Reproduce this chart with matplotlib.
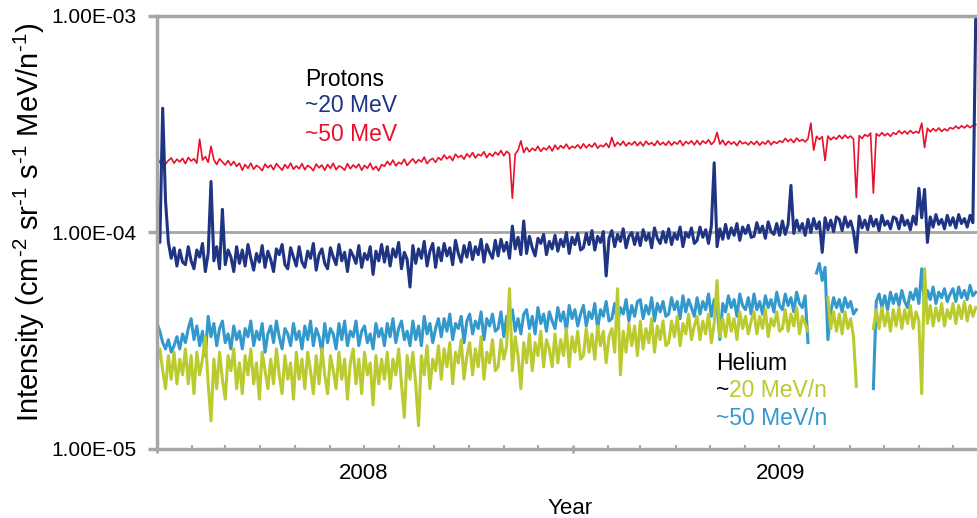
""" Proton and helium intensities, 2008-2009 """

import numpy as np
import matplotlib
matplotlib.use("Agg")
from matplotlib import pyplot as plt
import matplotlib.dates as mdates
from matplotlib.ticker import FixedLocator, FuncFormatter, NullFormatter, NullLocator

plt.rcParams['font.family'] = ['Liberation Sans', 'DejaVu Sans']
plt.rcParams['mathtext.fontset'] = 'custom'
plt.rcParams['mathtext.rm'] = 'Liberation Sans'
plt.rcParams['mathtext.it'] = 'Liberation Sans:italic'
plt.rcParams['mathtext.default'] = 'regular'

# samples every 2.5 days from 1 Jan 2008, intensities in units of 1e-5
start = np.datetime64('2008-01-01T00', 'h')
step = np.timedelta64(60, 'h')
unit = 1e-5
nan = np.nan

# protons ~50 MeV
p50 = [22.4, 21.0, 21.9, 20.7, 21.5, 22.1, 20.9, 21.8, 21.2, 22.0,
       20.8, 22.2, 21.4, 21.9, 20.9, 27.0, 21.6, 22.4, 21.1, 25.0,
       21.7, 20.6, 21.9, 21.2, 20.5, 21.5, 20.4, 21.3, 20.2, 20.9,
       19.4, 20.6, 19.8, 20.9, 19.6, 20.4, 20.0, 19.3, 20.7, 19.9,
       20.5, 19.5, 20.8, 20.1, 19.4, 20.6, 19.8, 20.9, 19.6, 20.3,
       19.7, 20.8, 19.5, 20.4, 20.0, 19.3, 20.7, 19.9, 20.5, 19.4,
       20.6, 19.8, 20.9, 19.5, 20.3, 20.0, 19.4, 20.8, 19.7, 20.5,
       19.9, 20.7, 19.4, 20.4, 19.8, 20.9, 19.5, 20.2, 19.3, 20.6,
       20.2, 21.3, 20.5, 21.6, 20.3, 21.1, 20.7, 21.8, 20.4, 21.2,
       21.9, 20.9, 21.7, 21.2, 22.3, 20.8, 21.6, 22.0, 21.1, 22.2,
       21.6, 22.8, 21.9, 22.5, 21.5, 23.0, 22.2, 22.7, 21.8, 23.1,
       22.3, 23.4, 22.1, 23.0, 22.6, 23.6, 22.2, 23.2, 22.5, 23.5,
       22.8, 23.9, 22.6, 23.7, 23.1, 14.4, 23.0, 24.0, 26.5, 23.4,
       24.7, 23.6, 24.5, 23.9, 25.0, 23.7, 24.6, 24.1, 25.1, 23.8,
       25.3, 24.2, 25.2, 24.5, 25.6, 24.3, 25.0, 24.6, 25.4, 24.4,
       25.7, 24.6, 25.5, 24.8, 25.9, 24.5, 25.3, 24.9, 25.8, 24.7,
       27.5, 25.0, 26.1, 25.3, 26.4, 25.1, 26.0, 25.4, 26.3, 25.2,
       26.2, 25.1, 26.4, 25.5, 26.0, 25.2, 26.5, 25.4, 26.1, 25.3,
       26.4, 25.3, 26.2, 25.6, 26.6, 25.2, 26.3, 25.7, 26.5, 25.4,
       26.6, 25.4, 26.5, 25.8, 26.8, 25.5, 26.3, 29.0, 25.6, 26.7,
       25.3, 26.4, 25.6, 26.2, 25.2, 26.5, 25.7, 26.1, 25.4, 26.3,
       25.5, 26.4, 25.3, 26.2, 25.6, 26.6, 25.4, 26.3, 25.8, 26.5,
       26.1, 27.2, 26.3, 27.0, 26.0, 27.3, 26.4, 26.9, 26.2, 27.1,
       32.0, 24.0, 27.8, 26.9, 27.7, 21.5, 27.9, 26.8, 27.6, 27.0,
       28.1, 27.1, 28.2, 27.3, 27.9, 27.0, 14.5, 28.0, 27.2, 28.3,
       27.8, 28.8, 15.2, 28.6, 27.9, 28.9, 28.0, 28.7, 27.8, 28.9,
       28.4, 29.5, 28.6, 29.4, 28.5, 29.6, 28.7, 29.3, 28.8, 32.0,
       24.7, 30.3, 29.2, 30.2, 29.4, 30.4, 29.3, 30.1, 29.5, 30.5,
       30.1, 31.0, 30.2, 31.1, 30.4, 31.3, 30.5, 31.2, 31.5]

# protons ~20 MeV
p20 = [11.5, 9.0, 37.5, 14.0, 9.0, 7.6, 8.5, 7.0, 8.3, 7.3,
       7.1, 8.6, 7.4, 6.8, 8.3, 7.7, 8.9, 6.6, 8.0, 17.2,
       7.4, 8.6, 6.8, 12.8, 7.1, 8.3, 7.7, 6.6, 8.6, 7.2,
       8.3, 7.0, 8.8, 7.6, 6.7, 8.0, 7.3, 8.7, 6.9, 8.2,
       7.5, 6.6, 8.4, 7.9, 8.8, 7.1, 6.8, 8.5, 7.7, 7.0,
       8.6, 7.3, 6.9, 8.2, 7.6, 8.9, 6.7, 7.9, 8.4, 7.2,
       6.8, 8.5, 7.7, 7.1, 8.8, 7.4, 8.1, 6.6, 8.3, 7.8,
       7.2, 8.7, 6.9, 8.0, 7.5, 8.6, 6.4, 8.2, 7.4, 8.8,
       7.3, 8.6, 7.0, 8.4, 7.7, 9.0, 6.8, 8.1, 7.5, 5.6,
       8.7, 7.2, 8.4, 7.6, 9.1, 7.0, 8.2, 8.9, 6.9, 8.5,
       7.4, 8.9, 7.8, 8.5, 7.1, 9.2, 8.0, 7.3, 8.7, 7.7,
       9.0, 7.5, 8.6, 7.9, 9.3, 7.3, 8.8, 8.1, 7.6, 9.2,
       7.8, 9.3, 8.2, 9.0, 7.6, 10.7, 8.4, 9.5, 7.9, 11.3,
       8.0, 9.6, 8.5, 7.8, 9.4, 8.9, 9.8, 7.9, 9.1, 8.4,
       9.7, 8.2, 9.3, 8.6, 10.0, 8.0, 9.5, 8.8, 9.9, 8.3,
       8.5, 9.9, 8.8, 10.2, 8.3, 9.6, 9.0, 10.1, 6.3, 9.4,
       10.2, 8.6, 9.8, 9.1, 10.4, 8.5, 9.6, 10.0, 8.8, 9.9,
       8.7, 10.3, 9.2, 9.9, 8.5, 10.5, 9.4, 8.9, 10.1, 9.0,
       10.4, 8.8, 9.9, 9.3, 10.6, 8.6, 10.0, 9.5, 10.5, 8.9,
       9.2, 10.6, 9.5, 10.3, 8.9, 10.7, 21.0, 8.6, 10.4, 9.3,
       10.9, 9.4, 10.5, 9.7, 11.0, 9.2, 10.6, 9.9, 10.8, 9.5,
       9.6, 11.1, 10.0, 10.7, 9.4, 11.2, 10.1, 9.8, 11.0, 9.7,
       11.3, 9.8, 10.9, 16.5, 9.9, 11.4, 10.2, 11.0, 9.7, 11.5,
       10.0, 11.6, 10.4, 11.2, 8.1, 11.7, 10.3, 11.4, 10.1, 11.8,
       11.5, 10.2, 11.8, 10.6, 11.3, 10.1, 8.1, 11.9, 10.5, 11.4,
       10.3, 11.9, 10.7, 11.5, 10.2, 12.0, 10.8, 11.3, 10.4, 11.8,
       11.6, 10.4, 12.0, 10.8, 11.4, 10.3, 11.9, 10.9, 16.0, 11.7,
       15.8, 9.0, 11.8, 10.6, 12.1, 10.9, 11.5, 10.4, 12.0, 10.8,
       11.7, 10.5, 12.1, 11.0, 11.6, 10.6, 12.0, 11.1, 98.0]

# helium ~50 MeV/n
he50 = [3.8, 3.5, 3.1, 2.9, 3.2, 2.8, 3.0, 3.3, 2.9, 3.4,
        3.1, 3.6, 4.0, 3.2, 3.7, 3.0, 3.5, 2.7, 4.1, 3.3,
        3.8, 3.0, 3.6, 3.9, 3.1, 3.4, 2.9, 3.7, 3.2, 3.5,
        2.9, 3.6, 3.3, 3.9, 3.0, 3.5, 3.2, 3.8, 2.8, 3.4,
        3.7, 3.1, 3.9, 3.3, 2.9, 3.6, 3.4, 3.0, 3.8, 3.2,
        3.5, 2.9, 3.7, 3.2, 3.9, 3.0, 3.6, 3.3, 2.8, 3.8,
        3.1, 3.6, 3.4, 2.9, 3.8, 3.2, 3.9, 3.0, 3.5, 3.3,
        3.9, 3.0, 3.5, 3.7, 3.1, 3.4, 2.9, 3.8, 3.3, 3.6,
        3.0, 3.8, 3.3, 4.0, 3.1, 3.6, 3.9, 3.2, 3.5, 3.0,
        3.9, 3.2, 3.7, 3.0, 4.1, 3.4, 3.8, 3.1, 3.6, 4.0,
        3.3, 4.0, 3.5, 4.2, 3.2, 3.8, 3.6, 4.1, 3.1, 3.9,
        4.2, 3.4, 3.9, 3.6, 4.3, 3.2, 4.0, 3.7, 4.2, 3.5,
        3.6, 4.3, 3.3, 4.1, 3.8, 4.4, 3.5, 4.0, 3.4, 4.2,
        4.4, 3.6, 4.1, 3.4, 4.5, 3.8, 4.2, 3.5, 4.3, 3.9,
        3.6, 4.5, 3.9, 4.3, 3.5, 4.6, 4.0, 4.4, 3.7, 4.2,
        4.6, 3.7, 4.3, 4.0, 4.7, 3.6, 4.4, 4.1, 4.8, 3.9,
        4.0, 4.7, 3.8, 4.5, 4.2, 4.9, 3.9, 4.6, 4.1, 4.8,
        4.9, 4.0, 4.6, 4.2, 5.0, 3.9, 4.7, 4.3, 4.8, 4.1,
        4.2, 5.0, 4.4, 4.8, 4.0, 5.1, 4.3, 4.9, 4.5, 4.1,
        5.0, 4.2, 4.8, 4.4, 5.2, 4.1, 4.9, 4.6, 3.2, 4.7,
        4.3, 5.1, 4.5, 4.9, 4.1, 5.2, 4.6, 4.4, 5.0, 4.2,
        5.2, 4.4, 4.8, 4.2, 5.1, 4.5, 4.9, 4.3, 5.3, 4.6,
        4.4, 5.2, 4.6, 5.0, 4.3, 5.3, 4.7, 4.5, 5.1, 3.1,
        nan, nan, 6.5, 7.2, 6.0, 6.9, 3.2, 4.3, 5.0, 4.5,
        4.9, 4.3, 5.0, 4.5, 4.8, 4.2, 4.4, nan, nan, nan,
        nan, nan, 1.9, 4.8, 5.2, 4.5, 5.1, 4.4, 5.3, 4.7,
        5.2, 4.6, 5.4, 4.8, 4.5, 5.3, 4.9, 5.5, 4.7, 6.8,
        4.6, 5.4, 4.9, 5.6, 4.7, 5.3, 5.0, 5.5, 4.8, 5.2,
        5.5, 4.8, 5.6, 5.0, 5.4, 4.9, 5.7, 5.1, 5.3]

# helium ~20 MeV/n
he20 = [2.5, 2.9, 2.3, 1.9, 2.7, 2.1, 2.8, 2.0, 2.6, 2.2,
        2.9, 2.0, 2.7, 1.8, 2.8, 2.2, 2.6, 3.3, 2.0, 1.35,
        2.6, 1.9, 2.8, 2.1, 1.7, 2.7, 2.3, 2.9, 1.9, 2.5,
        1.8, 2.7, 2.2, 2.9, 2.0, 2.5, 1.7, 2.8, 2.3, 1.9,
        2.6, 2.0, 2.9, 2.2, 1.8, 2.7, 2.1, 2.5, 1.7, 2.8,
        2.1, 2.6, 1.9, 2.8, 2.3, 1.8, 2.7, 2.0, 2.9, 2.2,
        1.8, 2.7, 2.3, 1.9, 2.8, 2.1, 2.6, 1.7, 2.5, 2.9,
        2.0, 2.6, 1.8, 2.8, 2.2, 2.5, 1.6, 2.7, 2.0, 2.6,
        2.1, 2.8, 1.9, 2.6, 2.2, 2.9, 2.0, 1.4, 2.7, 2.1,
        2.8, 2.0, 1.28, 2.7, 2.2, 3.0, 1.9, 2.6, 2.3, 3.0,
        2.1, 2.9, 2.4, 3.1, 2.0, 2.8, 2.5, 3.2, 2.1, 2.7,
        3.1, 2.2, 2.9, 2.4, 3.3, 2.1, 2.8, 2.5, 3.2, 2.3,
        2.4, 3.2, 2.6, 3.0, 5.5, 2.3, 3.3, 2.7, 1.9, 3.1,
        2.5, 3.4, 2.3, 3.1, 2.7, 3.5, 2.4, 3.2, 2.9, 2.4,
        3.4, 2.5, 3.2, 2.7, 3.6, 2.4, 3.3, 2.8, 3.5, 2.6,
        2.7, 3.6, 2.8, 3.4, 2.6, 3.7, 3.0, 3.5, 2.5, 3.3,
        3.6, 2.8, 5.5, 2.2, 3.5, 2.8, 3.8, 3.0, 3.7, 2.7,
        3.9, 2.9, 3.6, 3.1, 4.0, 2.8, 3.7, 3.2, 3.9, 3.0,
        3.1, 3.9, 3.3, 4.1, 3.0, 3.8, 3.4, 4.2, 3.2, 3.7,
        4.1, 3.2, 3.9, 3.4, 4.2, 3.1, 3.8, 6.0, 3.3, 4.0,
        3.3, 4.2, 3.5, 4.0, 3.2, 4.3, 3.6, 4.1, 3.4, 3.9,
        4.3, 3.4, 4.1, 3.6, 4.4, 3.3, 4.0, 3.7, 4.3, 3.5,
        3.6, 4.4, 3.5, 4.2, 3.7, 4.5, 3.4, 4.1, 3.8, 3.5,
        nan, nan, nan, nan, nan, nan, 5.0, 3.6, 4.3, 3.5,
        4.2, 3.4, 4.3, 3.6, 4.0, 3.3, 1.95, nan, nan, nan,
        nan, nan, 3.6, 4.4, 3.6, 4.5, 3.7, 4.3, 3.5, 4.4,
        3.7, 4.5, 3.6, 4.4, 3.8, 4.6, 3.6, 4.3, 3.9, 1.8,
        6.8, 3.8, 4.6, 3.7, 4.5, 3.9, 4.7, 3.7, 4.4, 4.0,
        4.7, 3.8, 4.6, 4.0, 4.8, 3.9, 4.6, 4.1, 4.5]

RED = "#E8112D"
NAVY = "#1F3482"
SKY = "#3399CC"
LIME = "#BACA2F"
GRAY = "#A6A6A6"

times = start + np.arange(len(p50)) * step

fig = plt.figure(figsize=(9.78, 5.18), dpi=100)
ax = fig.add_axes([157 / 978, 69 / 518, 821 / 978, 433 / 518])

ax.plot(times, np.array(p50) * unit, color=RED, lw=1.2)
ax.plot(times, np.array(p20) * unit, color=NAVY, lw=2.2)
ax.plot(times, np.array(he50) * unit, color=SKY, lw=2.2)
ax.plot(times, np.array(he20) * unit, color=LIME, lw=2.2)

ax.set_yscale('log')
ax.set_ylim(1e-5, 1e-3)
ax.set_xlim(np.datetime64('2008-01-01'), np.datetime64('2009-12-23'))

# axes look
ax.spines['right'].set_visible(False)
for side in ('left', 'bottom', 'top'):
    ax.spines[side].set_color(GRAY)
    ax.spines[side].set_linewidth(2.5)
ax.yaxis.grid(True, color=GRAY, lw=2.0)
ax.set_axisbelow(True)

ax.yaxis.set_major_locator(FixedLocator([1e-5, 1e-4, 1e-3]))
ax.yaxis.set_minor_locator(NullLocator())
ax.yaxis.set_major_formatter(FuncFormatter(lambda v, pos: f"{v:.2E}"))
ax.tick_params(axis='y', which='major', direction='out', length=6.5,
               width=2.5, color=GRAY, pad=8, labelsize=15)

ax.xaxis.set_major_locator(mdates.YearLocator())
ax.xaxis.set_minor_locator(mdates.MonthLocator())
ax.xaxis.set_major_formatter(NullFormatter())
ax.tick_params(axis='x', which='major', direction='inout', length=6,
               width=2.0, color=GRAY)
ax.tick_params(axis='x', which='minor', direction='in', length=3,
               width=1.5, color=GRAY)

# year labels sit between the year ticks
for mid, yr in ((np.datetime64('2008-07-01'), '2008'),
                (np.datetime64('2009-07-02'), '2009')):
    ax.text(mdates.date2num(mid), -0.069, yr, transform=ax.get_xaxis_transform(),
            ha='center', va='baseline', fontsize=16)

fig.text(570 / 978, 1 - 514 / 518, 'Year', ha='center', va='baseline', fontsize=16)
fig.text(29 / 978, 1 - 222 / 518,
         r'Intensity (cm$^{\text{-2}}$ sr$^{\text{-1}}$ s$^{\text{-1}}$ MeV/n$^{\text{-1}}$)',
         rotation=90, ha='center', va='center', fontsize=21)

# in-plot legends
fs = 16.5
fig.text(305 / 978, 1 - 86 / 518, 'Protons', color='black', va='baseline', fontsize=fs)
fig.text(305 / 978, 1 - 112 / 518, '~20 MeV', color=NAVY, va='baseline', fontsize=fs)
fig.text(305 / 978, 1 - 141 / 518, '~50 MeV', color=RED, va='baseline', fontsize=fs)

fig.text(716 / 978, 1 - 370 / 518, 'Helium', color='black', va='baseline', fontsize=fs)
t = fig.text(716 / 978, 1 - 397 / 518, '~', color='black', va='baseline', fontsize=fs)
ax.annotate('20 MeV/n', xy=(1, 0), xycoords=t, ha='left', va='bottom',
            color=LIME, fontsize=fs, annotation_clip=False)
fig.text(716 / 978, 1 - 425 / 518, '~50 MeV/n', color=SKY, va='baseline', fontsize=fs)

fig.savefig("out.png", dpi=100)
